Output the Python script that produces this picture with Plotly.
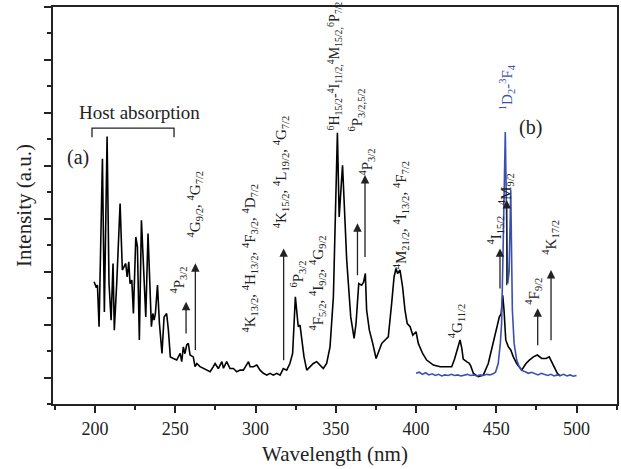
import plotly.graph_objects as go

# ---- data: spectrum (a), black ----
wl_a = [199.4, 200.6, 201.5, 202.5, 204.6, 205.8, 207.5, 208.7, 210.0, 211.2, 212.0, 213.5,
        215.6, 217.0, 218.0, 219.1, 220.0, 221.0, 221.8, 222.9, 223.9, 225.4, 226.4, 227.6,
        228.9, 230.1, 231.6, 233.0, 234.3, 235.1, 236.0, 236.8, 237.6, 238.9, 240.1, 241.7,
        243.0, 244.6, 245.7, 246.9, 248.8, 250.9, 253.0, 254.0, 255.0, 256.0, 257.1, 258.1,
        259.2, 261.2, 262.3, 263.4, 265.4, 267.5, 269.6, 271.7, 273.7, 274.8, 276.8, 279.0,
        280.0, 282.0, 284.1, 286.2, 288.3, 290.4, 292.4, 294.6, 295.6, 296.6, 298.7, 300.8,
        302.8, 304.9, 307.0, 309.0, 311.1, 313.2, 315.3, 317.3, 319.4, 321.4, 323.1, 324.8,
        325.6, 326.6, 327.7, 328.7, 330.2, 331.9, 334.0, 336.0, 338.1, 340.2, 342.2, 344.3,
        346.4, 348.5, 351.0, 352.1, 354.2, 356.8, 359.3, 361.4, 362.6, 364.3, 366.1, 367.3,
        368.4, 369.2, 370.9, 373.0, 375.1, 377.1, 378.6, 380.7, 382.7, 384.8, 386.3, 387.5,
        388.5, 390.0, 391.6, 393.1, 394.5, 396.3, 398.0, 400.0, 401.4, 404.1, 406.6, 410.8,
        415.0, 419.1, 422.2, 424.0, 425.3, 427.4, 428.5, 429.4, 431.5, 433.0, 434.0, 435.7,
        438.8, 441.9, 445.0, 448.1, 450.2, 451.9, 453.0, 454.0, 454.8, 455.9, 457.5, 459.0,
        460.6, 462.7, 465.8, 468.5, 470.6, 473.1, 475.6, 478.3, 481.0, 483.0, 485.5, 488.0,
        490.0]
int_a = [4.62, 4.43, 4.49, 2.92, 9.27, 3.48, 10.11, 4.55, 3.17, 5.31, 2.79, 4.55,
         7.57, 5.06, 5.18, 5.31, 4.80, 5.37, 4.55, 4.68, 3.42, 6.31, 5.94, 2.42,
         6.94, 5.43, 3.29, 6.44, 4.43, 2.92, 3.42, 3.17, 3.42, 4.49, 3.05, 1.91,
         3.29, 3.42, 2.79, 1.78, 1.72, 1.66, 1.91, 1.60, 2.16, 1.90, 2.23, 2.29,
         1.85, 1.78, 1.41, 1.53, 1.41, 1.34, 1.28, 1.22, 1.41, 1.53, 1.34, 1.60,
         1.35, 1.60, 1.34, 1.34, 1.22, 1.28, 1.28, 1.53, 1.60, 1.41, 1.41, 1.47,
         1.28, 1.16, 1.09, 1.16, 1.09, 1.16, 1.09, 1.34, 1.28, 1.53, 1.91, 4.05,
         3.42, 2.92, 2.98, 2.42, 1.78, 1.28, 1.41, 1.53, 1.60, 1.47, 1.34, 1.53,
         2.16, 4.05, 10.25, 7.07, 9.02, 5.43, 3.29, 2.48, 3.04, 4.55, 4.49, 4.60,
         4.93, 3.55, 2.79, 2.29, 1.72, 2.04, 2.29, 2.42, 2.54, 3.80, 4.80, 5.12,
         4.93, 5.06, 4.43, 3.55, 3.04, 2.92, 2.60, 2.73, 2.29, 1.91, 1.66, 1.47,
         1.41, 1.41, 1.41, 1.70, 2.00, 2.42, 2.10, 1.70, 1.60, 1.55, 1.45, 1.16,
         1.03, 1.09, 1.53, 2.29, 2.92, 3.29, 3.40, 4.11, 3.55, 2.42, 2.16, 2.04,
         1.78, 1.53, 1.28, 1.53, 1.66, 1.78, 1.85, 1.72, 1.72, 1.78, 1.47, 1.16,
         1.05]

# ---- data: spectrum (b), blue ----
wl_b = [400, 402, 404, 406, 408, 410, 412, 414, 416, 418, 420, 422, 424, 426, 428, 430,
        432, 434, 436, 438, 440, 442, 444, 446, 448, 449.5, 451.2, 452.5, 453.3, 454.3,
        455.6, 456.3, 457.1, 458.0, 459.0, 460.0, 461.1, 462.7, 464.0, 465.8, 468, 470,
        472, 474, 476, 478, 480, 482, 484, 486, 488, 490, 492, 494, 496, 498, 500]
int_b = [1.16, 1.20, 1.12, 1.18, 1.10, 1.14, 1.08, 1.12, 1.06, 1.10, 1.08, 1.12, 1.08,
         1.10, 1.06, 1.10, 1.12, 1.08, 1.10, 1.06, 1.10, 1.08, 1.12, 1.10, 1.14, 1.20,
         1.53, 2.30, 3.04, 6.06, 10.28, 7.50, 4.55, 5.00, 8.08, 3.55, 2.29, 1.66, 1.45,
         1.28, 1.20, 1.16, 1.20, 1.14, 1.10, 1.16, 1.12, 1.08, 1.12, 1.06, 1.10, 1.08,
         1.12, 1.06, 1.10, 1.05, 1.08]

# ---- axis ticks ----
x_tickvals = [200, 250, 300, 350, 400, 450, 500]
x_ticktext = ["200", "250", "300", "350", "400", "450", "500"]

# ---- transition labels (rotated) ----
label_texts = [
    "<sup>4</sup>P<sub>3/2</sub>",
    "<sup>4</sup>G<sub>9/2</sub>, <sup>4</sup>G<sub>7/2</sub>",
    "<sup>4</sup>K<sub>13/2</sub>, <sup>4</sup>H<sub>13/2</sub>, <sup>4</sup>F<sub>3/2</sub>, <sup>4</sup>D<sub>7/2</sub>",
    "<sup>4</sup>K<sub>15/2</sub>, <sup>4</sup>L<sub>19/2</sub>, <sup>4</sup>G<sub>7/2</sub>",
    "<sup>6</sup>P<sub>3/2</sub>",
    "<sup>4</sup>F<sub>5/2</sub>, <sup>4</sup>I<sub>9/2</sub>, <sup>4</sup>G<sub>9/2</sub>",
    "<sup>6</sup>H<sub>15/2</sub>-<sup>4</sup>I<sub>11/2,</sub><sup>4</sup>M<sub>15/2,</sub><sup>6</sup>P<sub>7/2</sub>",
    "<sup>6</sup>P<sub>3/2,5/2</sub>",
    "<sup>4</sup>P<sub>3/2</sub>",
    "<sup>4</sup>M<sub>21/2</sub>, <sup>4</sup>I<sub>13/2</sub>, <sup>4</sup>F<sub>7/2</sub>",
    "<sup>4</sup>G<sub>11/2</sub>",
    "<sup>4</sup>I<sub>15/2</sub>",
    "<sup>4</sup>M<sub>9/2</sub>",
    "<sup>4</sup>F<sub>9/2</sub>",
    "<sup>4</sup>K<sub>17/2</sub>",
    "<sup>1</sup>D<sub>2</sub>-<sup>3</sup>F<sub>4</sub>",
]
label_x = [251.7, 262.3, 296.6, 315.9, 326.5, 338.3, 349.5, 363.2, 369.5, 390.4,
           425.0, 449.2, 456.1, 472.9, 483.5, 456.7]
label_y = [4.08, 6.20, 2.61, 6.57, 4.31, 2.68, 10.24, 10.24, 8.54, 5.00,
           2.42, 5.93, 7.44, 3.66, 5.55, 11.03]
label_sizes = [15, 15, 15, 15, 15, 15, 14, 15, 15, 15, 15, 15, 15, 15, 15, 15]
label_colors = ["#222"] * 15 + ["#3a50b0"]

# ---- arrows (x, tail y, head y) ----
arrow_x = [256.7, 262.5, 317.5, 363.5, 368.2, 452.3, 456.5, 475.8, 484.1]
arrow_y0 = [2.61, 1.98, 1.60, 4.81, 5.50, 4.31, 4.43, 2.16, 2.35]
arrow_y1 = [3.86, 5.32, 5.88, 6.83, 8.65, 5.88, 7.71, 3.62, 5.06]

# ---- host absorption bracket ----
bracket_x = [198.1, 198.1, 249.2, 249.2]
bracket_y = [10.08, 10.42, 10.42, 10.08]

FONT = "Liberation Serif"

fig = go.Figure()
fig.add_trace(go.Scatter(x=wl_a, y=int_a, mode="lines",
                         line=dict(color="black", width=1.6), showlegend=False))
fig.add_trace(go.Scatter(x=wl_b, y=int_b, mode="lines",
                         line=dict(color="#3a50b0", width=1.6), showlegend=False))
fig.add_trace(go.Scatter(x=bracket_x, y=bracket_y, mode="lines",
                         line=dict(color="#222", width=1.3), showlegend=False))

anns = []
for t, x, y, s, c in zip(label_texts, label_x, label_y, label_sizes, label_colors):
    anns.append(dict(text=t, x=x, y=y, xref="x", yref="y", showarrow=False,
                     textangle=-90, xanchor="center", yanchor="bottom",
                     font=dict(family=FONT, size=s, color=c)))
for x, y0, y1 in zip(arrow_x, arrow_y0, arrow_y1):
    anns.append(dict(text="", x=x, y=y1, ax=x, ay=y0, xref="x", yref="y",
                     axref="x", ayref="y", showarrow=True, arrowhead=2,
                     arrowsize=1.3, arrowwidth=1.3, arrowcolor="#222"))
anns.append(dict(text="Host absorption", x=228, y=11.03, xref="x", yref="y",
                 showarrow=False, font=dict(family=FONT, size=19, color="#222")))
anns.append(dict(text="(a)", x=189.4, y=9.33, xref="x", yref="y",
                 showarrow=False, font=dict(family=FONT, size=20, color="#222")))
anns.append(dict(text="(b)", x=471, y=10.43, xref="x", yref="y",
                 showarrow=False, font=dict(family=FONT, size=20, color="#222")))

fig.update_layout(
    width=621, height=469,
    margin=dict(l=53, r=4, t=7, b=65),
    paper_bgcolor="white", plot_bgcolor="white",
    font=dict(family=FONT, color="#222"),
    annotations=anns,
    xaxis=dict(range=[173.8, 525.2], tickvals=x_tickvals, ticktext=x_ticktext,
               automargin=False,
               ticks="outside", ticklen=7, tickwidth=1.5, tickcolor="#222",
               minor=dict(ticks="outside", ticklen=4, tickwidth=1.5, dtick=25, tick0=0,
                          tickcolor="#222"),
               showline=True, linewidth=2, linecolor="#222", mirror=True,
               showgrid=False, zeroline=False,
               tickfont=dict(family=FONT, size=18, color="#222"),
               title=dict(text="Wavelength (nm)", standoff=9,
                          font=dict(family=FONT, size=21, color="#222"))),
    yaxis=dict(range=[0, 15], tick0=1, dtick=2,
               automargin=False,
               ticks="outside", ticklen=7, tickwidth=1.5, tickcolor="#222",
               minor=dict(ticks="outside", ticklen=4, tickwidth=1.5, dtick=1, tick0=0,
                          tickcolor="#222"),
               showticklabels=False,
               showline=True, linewidth=2, linecolor="#222", mirror=True,
               showgrid=False, zeroline=False,
               title=dict(text="Intensity (a.u.)", standoff=7,
                          font=dict(family=FONT, size=21, color="#222"))),
)

fig.write_html("out.html", config={"displayModeBar": False},
               post_script="document.body.style.margin='0px';document.body.style.overflow='hidden';")
